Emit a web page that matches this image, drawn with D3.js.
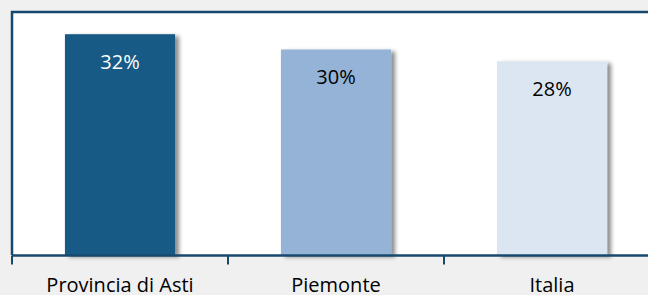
<!DOCTYPE html>
<html><head><meta charset="utf-8">
<script src="https://cdn.jsdelivr.net/npm/d3@7"></script>
<style>
html,body{margin:0;padding:0;background:#f0f0f0;}
svg{display:block;}
</style></head>
<body>
<script>
const categories = ["Provincia di Asti", "Piemonte", "Italia"];
const values = [0.318, 0.296, 0.279];
const barColors = ["#135a85", "#95b3d7", "#dce6f2"];
const labelColors = ["#ffffff", "#000000", "#000000"];

const W = 648, H = 295;
const svg = d3.select("body").append("svg").attr("width", W).attr("height", H);

const defs = svg.append("defs");
const f = defs.append("filter").attr("id", "sh").attr("x", "-20%").attr("y", "-20%").attr("width", "150%").attr("height", "150%");
f.append("feDropShadow").attr("dx", 4).attr("dy", 2).attr("stdDeviation", 2.2)
  .attr("flood-color", "#000").attr("flood-opacity", 0.45);

const mLeft = 12, mTop = 12, mBottom = 255, mRight = 660;
const x = d3.scaleBand().domain(categories).range([mLeft, mRight]).padding(0);
const y = d3.scaleLinear().domain([0, 0.35]).range([mBottom, mTop]);

// plot area
svg.append("rect").attr("x", mLeft).attr("y", mTop).attr("width", mRight - mLeft).attr("height", mBottom - mTop)
  .attr("fill", "#ffffff");

const bw = x.bandwidth() * 0.51;
const g = svg.append("g");
g.selectAll("rect.bar").data(values).join("rect")
  .attr("class", "bar")
  .attr("x", (d, i) => x(categories[i]) + (x.bandwidth() - bw) / 2)
  .attr("y", d => y(d))
  .attr("width", bw)
  .attr("height", d => y(0) - y(d))
  .attr("fill", (d, i) => barColors[i])
  .attr("filter", "url(#sh)");

const fmt = d3.format(".0%");
g.selectAll("text.val").data(values).join("text")
  .attr("class", "val")
  .attr("x", (d, i) => x(categories[i]) + x.bandwidth() / 2)
  .attr("y", d => y(d) + 35)
  .attr("text-anchor", "middle")
  .attr("font-family", "'Open Sans', sans-serif")
  .attr("font-size", 20)
  .attr("fill", (d, i) => labelColors[i])
  .text(d => fmt(d));

// borders (top and left)
svg.append("path")
  .attr("d", `M${mLeft},${mBottom} L${mLeft},${mTop} L${mRight},${mTop}`)
  .attr("fill", "none").attr("stroke", "#17496f").attr("stroke-width", 2.5);

// x axis
const ax = svg.append("g").attr("transform", `translate(0,${mBottom + 0.5})`)
  .call(d3.axisBottom(x).tickSize(0).tickPadding(22));
ax.select(".domain").attr("stroke", "#17496f").attr("stroke-width", 2.5)
  .attr("d", `M${mLeft},0H${mRight}`);
ax.selectAll(".tick text")
  .attr("font-family", "'Open Sans', sans-serif")
  .attr("font-size", 20)
  .attr("fill", "#000");
// boundary ticks
const bounds = categories.map(c => x(c));
ax.selectAll("line.bt").data(bounds).join("line")
  .attr("class", "bt")
  .attr("x1", d => d).attr("x2", d => d)
  .attr("y1", 0).attr("y2", 9)
  .attr("stroke", "#17496f").attr("stroke-width", 2);
</script>
</body></html>
